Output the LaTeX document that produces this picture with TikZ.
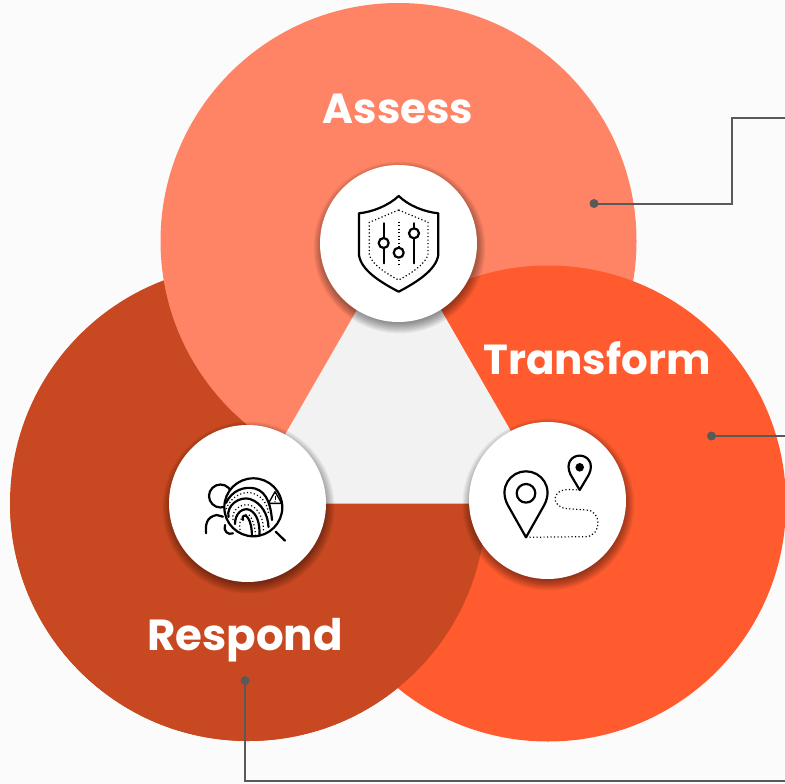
\documentclass[tikz,border=0pt]{standalone}
\usepackage{fontspec}
\setmainfont{Poppins}[BoldFont={Poppins Bold}]
\definecolor{bgc}{HTML}{FBFBFB}
\definecolor{assessc}{HTML}{FF8465}
\definecolor{transc}{HTML}{FF5B2E}
\definecolor{respc}{HTML}{C84821}
\definecolor{midc}{HTML}{F2F2F2}
\definecolor{linec}{HTML}{595959}
\tikzset{
  px/.style={x=1pt,y=-1pt},
  petal/.style={circle,minimum size=476pt,inner sep=0pt,outer sep=0pt,fill=#1},
  hub/.style={circle,minimum size=157pt,inner sep=0pt,outer sep=0pt,fill=white},
  title/.style={text=white,font=\fontsize{42}{42}\selectfont\bfseries,inner sep=0pt},
  lead/.style={draw=linec,line width=2pt},
  leaddot/.style={circle,fill=linec,minimum size=9pt,inner sep=0pt,outer sep=0pt},
  ink/.style={draw=black,line width=2.2pt,line join=round,line cap=round},
  dots/.style={draw=black,line width=1.2pt,dash pattern=on 1.2pt off 2.3pt},
}
\newcommand{\hubshadow}[2]{%
  \foreach \r in {86,85,84,83,82,81,80,79,78,77,76,75}{%
    \fill[black,opacity=0.045] (#1+1,#2+4) circle[radius=\r];}}
\begin{document}
\begin{tikzpicture}[px]
\useasboundingbox (0,0) rectangle (785,784);
\fill[bgc] (0,0) rectangle (785,784);
\begin{scope}
  \clip (0,0) rectangle (785,784);
  \node[petal=respc] (respond) at (248,503) {};
  \node[petal=assessc] (assess) at (398.5,241) {};
  \node[petal=transc] (transform) at (548,503.5) {};
  \begin{scope}
    \clip (0,503.5) rectangle (785,784);
    \node[petal=respc] at (248,503) {};
  \end{scope}
  \fill[midc] (399,237) -- (245.4,503.5) -- (552.6,503.5) -- cycle;
\end{scope}
% leaders
\coordinate (e1) at (785,118);
\coordinate (e2) at (785,436);
\coordinate (e3) at (785,781);
\node[leaddot] (d1) at (594,203.5) {};
\node[leaddot] (d2) at (711.5,436) {};
\node[leaddot] (d3) at (245,680.5) {};
\draw[lead] (d1.center) -| (732,118) -- (e1);
\draw[lead] (d2.center) -- (e2);
\draw[lead] (d3.center) |- (e3);
% hubs
\hubshadow{398.5}{243.5}
\hubshadow{247.5}{503.5}
\hubshadow{547.5}{500.5}
\node[hub] (hubA) at (398.5,243.5) {};
\node[hub] (hubR) at (247.5,503.5) {};
\node[hub] (hubT) at (547.5,500.5) {};
% titles
\node[title] at (398,109) {Assess};
\node[title] at (597,358.5) {Transform};
\node[title,font=\fontsize{43.5}{43.5}\selectfont\bfseries] at (245,640) {Respond};
% shield icon
\draw[ink] (398.7,196) .. controls (388,206) and (372,212) .. (359,213.3) -- (359,255)
  .. controls (361,270) and (380,282) .. (398.7,291.7)
  .. controls (417,282) and (436,270) .. (438.3,255) -- (438.3,213.3)
  .. controls (425,212) and (409,206) .. (398.7,196) -- cycle;
\draw[dots] (398.7,210) -- (369.3,222.3) -- (369.3,255) .. controls (372,264) and (385,273) .. (398.7,280)
  .. controls (412,273) and (425,264) .. (428,255) -- (428,222.3) -- cycle;
\draw[ink] (383.7,223.3) -- (383.7,263.3);
\draw[dots,line width=1.8pt] (398.7,221.7) -- (398.7,265);
\draw[ink] (414,223.3) -- (414,263.3);
\draw[ink,fill=white] (383.7,243) circle[radius=5];
\draw[ink,fill=white] (398.7,252.7) circle[radius=5];
\draw[ink,fill=white] (414,233.3) circle[radius=5];
% fingerprint icon
\draw[ink] (220.5,496) circle[radius=11.5];
\draw[ink] (206,533.3) .. controls (205.5,525) and (206,517) .. (216.7,515) -- (223,516.7);
\draw[ink] (225,525) .. controls (223,531) and (228,535.5) .. (233,533.3);
\fill[white] (253.3,507.3) circle[radius=29];
\begin{scope}
  \clip (253.3,507.3) circle[radius=29];
  \draw[ink] (226,503) .. controls (232,490) and (245,486) .. (255,488.5) .. controls (268,492) and (271,508) .. (272,520);
  \draw[dots] (226,509) .. controls (232,495) and (244,491) .. (252,493) .. controls (263,496) and (268,505) .. (268.5,514);
  \draw[ink] (228.5,517) .. controls (226,505) and (240,496) .. (250,499) .. controls (262,503) and (268,515) .. (268.5,527);
  \draw[dots] (233,520) .. controls (231,511) and (240,503) .. (250,505) .. controls (258,508) and (264,518) .. (263.5,532);
  \draw[ink] (235,524) .. controls (235,513) and (243,507) .. (250,510) .. controls (257,514) and (260,523) .. (259.5,536);
  \draw[dots] (240,530) .. controls (238,519) and (245,512) .. (249,515) .. controls (253,519) and (255,527) .. (255.5,535);
  \draw[ink] (243,520) .. controls (241,515) and (246,514) .. (248,518) .. controls (251,522) and (252,530) .. (252,537);
\end{scope}
\draw[ink] (253.3,507.3) circle[radius=29];
\draw[ink] (275.7,531.7) -- (285,540.7);
\draw[ink,line width=1.4pt,fill=white] (275,491.7) -- (268.5,503.3) -- (281.7,503.3) -- cycle;
\draw[black,line width=1pt] (275,495.5) -- (275,499.5);
\fill[black] (275,501.5) circle[radius=0.6];
% pins icon
\draw[ink] (526,537.3) -- (508,505.5) .. controls (498,487) and (511,471.3) .. (526,471.3)
  .. controls (541,471.3) and (554,487) .. (544,505.5) -- cycle;
\draw[ink] (526,493.3) circle[radius=9.3];
\draw[ink] (579.7,490) -- (570.5,474.5) .. controls (565,463) and (572,455.6) .. (579.7,455.6)
  .. controls (587.4,455.6) and (594.4,463) .. (588.9,474.5) -- cycle;
\fill[black] (579.7,467.3) circle[radius=4.3];
\draw[dots] (526,537.3) -- (586,536.7) .. controls (602,536) and (602,510) .. (586,510)
  -- (565,508.5) .. controls (551,505) and (552,490) .. (568,489.5) -- (579.7,490);
\end{tikzpicture}
\end{document}
